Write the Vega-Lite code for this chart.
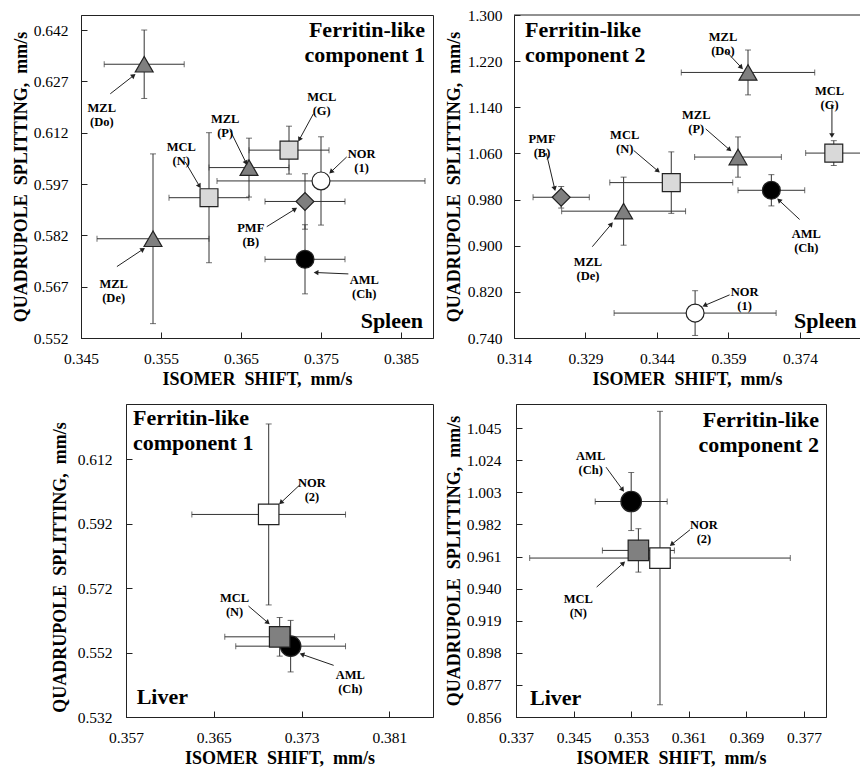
{
  "$schema": "https://vega.github.io/schema/vega-lite/v6.json",
  "background": "white",
  "padding": {"left": 11, "top": 8, "right": 0, "bottom": 0},
  "config": {
    "view": {"stroke": "#222", "strokeWidth": 1},
    "axis": {
      "grid": false,
      "domainColor": "#222",
      "tickColor": "#222",
      "tickSize": -6,
      "labelFont": "Liberation Serif",
      "labelFontSize": 15.5,
      "labelColor": "black",
      "labelFlush": false,
      "labelOverlap": false,
      "labelBound": false,
      "format": ".3f",
      "titleFont": "Liberation Serif",
      "titleFontSize": 18,
      "titleFontWeight": "bold",
      "titleColor": "black",
      "titleBaseline": "middle",
      "titleAlign": "center"
    },
    "axisQuantitative": {"labelOverlap": false},
    "axisX": {"labelPadding": 19, "titleY": 41},
    "axisY": {"labelPadding": 19, "titleAngle": 270, "labelOverlap": false},
    "text": {"font": "Liberation Serif", "fontWeight": "bold", "fontSize": 12.5, "lineBreak": "\n", "lineHeight": 14, "color": "black"}
  },
  "datasets": {
    "p1": [
      {"case": "MZL (Do)", "grp": "MZL", "x": 0.3529, "y": 0.6320, "dx": 0.0050, "dy": 0.0100},
      {"case": "MZL (De)", "grp": "MZL", "x": 0.3540, "y": 0.5810, "dx": 0.0070, "dy": 0.0248},
      {"case": "MCL (N)", "grp": "MCL", "x": 0.3610, "y": 0.5930, "dx": 0.0050, "dy": 0.0190},
      {"case": "MZL (P)", "grp": "MZL", "x": 0.3660, "y": 0.6018, "dx": 0.0050, "dy": 0.0086},
      {"case": "MCL (G)", "grp": "MCL", "x": 0.3710, "y": 0.6069, "dx": 0.0050, "dy": 0.0070},
      {"case": "AML (Ch)", "grp": "AML", "x": 0.3730, "y": 0.5750, "dx": 0.0050, "dy": 0.0101},
      {"case": "PMF (B)", "grp": "PMF", "x": 0.3730, "y": 0.5919, "dx": 0.0050, "dy": 0.0081},
      {"case": "NOR (1)", "grp": "NOR", "x": 0.3750, "y": 0.5979, "dx": 0.0130, "dy": 0.0129}
    ],
    "a1": [
      {"label": "MZL\n(Do)", "lx": 0.3476, "ly": 0.6193, "tx": 0.34866, "ty": 0.62336, "hx": 0.35158, "hy": 0.62870},
      {"label": "MZL\n(P)", "lx": 0.36302, "ly": 0.61608, "tx": 0.36364, "ty": 0.61268, "hx": 0.36564, "hy": 0.60317},
      {"label": "MCL\n(G)", "lx": 0.37509, "ly": 0.62239, "tx": 0.37405, "ty": 0.61753, "hx": 0.37230, "hy": 0.61000},
      {"label": "MCL\n(N)", "lx": 0.35753, "ly": 0.60782, "tx": 0.35803, "ty": 0.60346, "hx": 0.35981, "hy": 0.59637},
      {"label": "NOR\n(1)", "lx": 0.38008, "ly": 0.60569, "tx": 0.37821, "ty": 0.60491, "hx": 0.37625, "hy": 0.60055},
      {"label": "PMF\n(B)", "lx": 0.36622, "ly": 0.58404, "tx": 0.36822, "ty": 0.58453, "hx": 0.37176, "hy": 0.58967},
      {"label": "MZL\n(De)", "lx": 0.34908, "ly": 0.56782, "tx": 0.34949, "ty": 0.57287, "hx": 0.35274, "hy": 0.57792},
      {"label": "AML\n(Ch)", "lx": 0.38041, "ly": 0.56899, "tx": 0.37842, "ty": 0.57073, "hx": 0.37438, "hy": 0.57113}
    ],
    "p2": [
      {"case": "MZL (Do)", "grp": "MZL", "x": 0.3631, "y": 1.2004, "dx": 0.0140, "dy": 0.0389},
      {"case": "MZL (P)", "grp": "MZL", "x": 0.3610, "y": 1.0537, "dx": 0.0091, "dy": 0.0349},
      {"case": "MZL (De)", "grp": "MZL", "x": 0.3370, "y": 0.9599, "dx": 0.0130, "dy": 0.0590},
      {"case": "PMF (B)", "grp": "PMF", "x": 0.3239, "y": 0.9840, "dx": 0.0059, "dy": 0.0187},
      {"case": "AML (Ch)", "grp": "AML", "x": 0.3680, "y": 0.9961, "dx": 0.0070, "dy": 0.0271},
      {"case": "MCL (G)", "grp": "MCL", "x": 0.3811, "y": 1.0606, "dx": 0.0059, "dy": 0.0215},
      {"case": "MCL (N)", "grp": "MCL", "x": 0.3470, "y": 1.0094, "dx": 0.0129, "dy": 0.0533},
      {"case": "NOR (1)", "grp": "NOR", "x": 0.3520, "y": 0.7832, "dx": 0.0170, "dy": 0.0388}
    ],
    "a2": [
      {"label": "MZL\n(Do)", "lx": 0.35785, "ly": 1.26259, "tx": 0.35855, "ty": 1.23669, "hx": 0.36169, "hy": 1.20906},
      {"label": "MCL\n(G)", "lx": 0.38022, "ly": 1.16878, "tx": 0.38071, "ty": 1.14576, "hx": 0.38071, "hy": 1.09108},
      {"label": "MZL\n(P)", "lx": 0.35225, "ly": 1.12676, "tx": 0.35421, "ty": 1.10259, "hx": 0.35924, "hy": 1.06633},
      {"label": "MCL\n(N)", "lx": 0.33722, "ly": 1.09165, "tx": 0.33911, "ty": 1.06518, "hx": 0.34421, "hy": 1.02950},
      {"label": "PMF\n(B)", "lx": 0.31987, "ly": 1.08417, "tx": 0.32078, "ty": 1.06058, "hx": 0.32253, "hy": 0.99899},
      {"label": "MZL\n(De)", "lx": 0.32952, "ly": 0.87237, "tx": 0.33043, "ty": 0.89827, "hx": 0.33442, "hy": 0.93741},
      {"label": "AML\n(Ch)", "lx": 0.37533, "ly": 0.91957, "tx": 0.37393, "ty": 0.94546, "hx": 0.36960, "hy": 0.97885},
      {"label": "NOR\n(1)", "lx": 0.36239, "ly": 0.81942, "tx": 0.35924, "ty": 0.81482, "hx": 0.35400, "hy": 0.79640}
    ],
    "p3": [
      {"case": "NOR (2)", "grp": "NOR", "x": 0.3700, "y": 0.5949, "dx": 0.0070, "dy": 0.0281},
      {"case": "AML (Ch)", "grp": "AML", "x": 0.3720, "y": 0.5540, "dx": 0.0050, "dy": 0.0080},
      {"case": "MCL (N)", "grp": "MCL", "x": 0.3710, "y": 0.5569, "dx": 0.0050, "dy": 0.0060}
    ],
    "a3": [
      {"label": "NOR\n(2)", "lx": 0.37394, "ly": 0.60455, "tx": 0.37288, "ty": 0.60424, "hx": 0.37111, "hy": 0.59855},
      {"label": "MCL\n(N)", "lx": 0.36689, "ly": 0.56884, "tx": 0.36816, "ty": 0.56645, "hx": 0.36993, "hy": 0.56129},
      {"label": "AML\n(Ch)", "lx": 0.37744, "ly": 0.54504, "tx": 0.37592, "ty": 0.54804, "hx": 0.37303, "hy": 0.55146}
    ],
    "p4": [
      {"case": "AML (Ch)", "grp": "AML", "x": 0.3530, "y": 0.9970, "dx": 0.0050, "dy": 0.0190},
      {"case": "MCL (N)", "grp": "MCL", "x": 0.3540, "y": 0.9650, "dx": 0.0050, "dy": 0.0142},
      {"case": "NOR (2)", "grp": "NOR", "x": 0.3570, "y": 0.9600, "dx": 0.0181, "dy": 0.0960}
    ],
    "a4": [
      {"label": "AML\n(Ch)", "lx": 0.34737, "ly": 1.02647, "tx": 0.34950, "ty": 1.01949, "hx": 0.35181, "hy": 1.00467},
      {"label": "NOR\n(2)", "lx": 0.36311, "ly": 0.98134, "tx": 0.36117, "ty": 0.97851, "hx": 0.35862, "hy": 0.96891},
      {"label": "MCL\n(N)", "lx": 0.34566, "ly": 0.93295, "tx": 0.34820, "ty": 0.94101, "hx": 0.35191, "hy": 0.95671}
    ],
    "one": [{}]
  },
  "spacing": 14,
  "resolve": {"scale": {"shape": "independent", "fill": "independent"}},
  "vconcat": [
    {
      "spacing": 81,
      "bounds": "flush",
      "resolve": {"scale": {"shape": "independent", "fill": "independent"}},
      "hconcat": [
        {
          "width": 352, "height": 323,
          "layer": [
            {
              "data": {"name": "p1"},
              "mark": {"type": "errorbar", "ticks": {"size": 6}, "color": "#333", "thickness": 1},
              "encoding": {
                "x": {"field": "x", "type": "quantitative", "title": "ISOMER\u00a0 SHIFT,\u00a0 mm/s", "scale": {"domain": [0.345, 0.389], "nice": false, "zero": false},
                      "axis": {"values": [0.345, 0.355, 0.365, 0.375, 0.385], "titleX": 176, "labelOverlap": false}},
                "xError": {"field": "dx"},
                "y": {"field": "y", "type": "quantitative", "title": "QUADRUPOLE\u00a0 SPLITTING,\u00a0 mm/s", "scale": {"domain": [0.552, 0.64639], "nice": false, "zero": false},
                      "axis": {"values": [0.552, 0.567, 0.582, 0.597, 0.612, 0.627, 0.642], "titleX": -60, "titleY": 161.5, "labelOverlap": false}}
              }
            },
            {
              "data": {"name": "p1"},
              "mark": {"type": "errorbar", "ticks": {"size": 6}, "color": "#333", "thickness": 1},
              "encoding": {
                "x": {"field": "x", "type": "quantitative", "title": "ISOMER\u00a0 SHIFT,\u00a0 mm/s"},
                "y": {"field": "y", "type": "quantitative", "title": "QUADRUPOLE\u00a0 SPLITTING,\u00a0 mm/s"},
                "yError": {"field": "dy"}
              }
            },
            {
              "data": {"name": "p1"},
              "mark": {"type": "point", "filled": true, "size": 320, "stroke": "#222", "strokeWidth": 1.2, "opacity": 1},
              "encoding": {
                "x": {"field": "x", "type": "quantitative", "title": "ISOMER\u00a0 SHIFT,\u00a0 mm/s"},
                "y": {"field": "y", "type": "quantitative", "title": "QUADRUPOLE\u00a0 SPLITTING,\u00a0 mm/s"},
                "shape": {"field": "grp", "type": "nominal", "legend": null,
                          "scale": {"domain": ["MZL", "MCL", "NOR", "PMF", "AML"], "range": ["triangle-up", "square", "circle", "diamond", "circle"]}},
                "fill": {"field": "grp", "type": "nominal", "legend": null,
                         "scale": {"domain": ["MZL", "MCL", "NOR", "PMF", "AML"], "range": ["#7f7f7f", "#d9d9d9", "#ffffff", "#7f7f7f", "#000000"]}}
              }
            },
            {
              "data": {"name": "a1"},
              "mark": {"type": "rule", "color": "#222", "strokeWidth": 1},
              "encoding": {
                "x": {"field": "tx", "type": "quantitative", "title": "ISOMER\u00a0 SHIFT,\u00a0 mm/s"},
                "y": {"field": "ty", "type": "quantitative", "title": "QUADRUPOLE\u00a0 SPLITTING,\u00a0 mm/s"},
                "x2": {"field": "hx"}, "y2": {"field": "hy"}
              }
            },
            {
              "data": {"name": "a1"},
              "transform": [{"calculate": "atan2((datum.hx - datum.tx) * 8000, (datum.hy - datum.ty) * 3422) * 180 / PI", "as": "ang"}],
              "mark": {"type": "point", "shape": "triangle-up", "filled": true, "size": 30, "color": "#222", "opacity": 1},
              "encoding": {
                "x": {"field": "hx", "type": "quantitative", "title": "ISOMER\u00a0 SHIFT,\u00a0 mm/s"},
                "y": {"field": "hy", "type": "quantitative", "title": "QUADRUPOLE\u00a0 SPLITTING,\u00a0 mm/s"},
                "angle": {"field": "ang", "type": "quantitative", "scale": null}
              }
            },
            {
              "data": {"name": "a1"},
              "mark": {"type": "text", "align": "center", "baseline": "middle"},
              "encoding": {
                "x": {"field": "lx", "type": "quantitative", "title": "ISOMER\u00a0 SHIFT,\u00a0 mm/s"},
                "y": {"field": "ly", "type": "quantitative", "title": "QUADRUPOLE\u00a0 SPLITTING,\u00a0 mm/s"},
                "text": {"field": "label"}
              }
            },
            {
              "data": {"name": "one"},
              "mark": {"type": "text", "align": "right", "baseline": "alphabetic", "fontSize": 22, "lineHeight": 25},
              "encoding": {
                "x": {"datum": 0.388, "type": "quantitative", "title": "ISOMER\u00a0 SHIFT,\u00a0 mm/s"},
                "y": {"datum": 0.64005, "type": "quantitative", "title": "QUADRUPOLE\u00a0 SPLITTING,\u00a0 mm/s"},
                "text": {"value": ["Ferritin-like", "component 1"]}
              }
            },
            {
              "data": {"name": "one"},
              "mark": {"type": "text", "align": "right", "baseline": "alphabetic", "fontSize": 22},
              "encoding": {
                "x": {"datum": 0.38775, "type": "quantitative", "title": "ISOMER\u00a0 SHIFT,\u00a0 mm/s"},
                "y": {"datum": 0.55492, "type": "quantitative", "title": "QUADRUPOLE\u00a0 SPLITTING,\u00a0 mm/s"},
                "text": {"value": "Spleen"}
              }
            }
          ]
        },
        {
          "width": 346, "height": 323,
          "view": {"stroke": null},
          "layer": [
            {
              "data": {"name": "p2"},
              "mark": {"type": "errorbar", "ticks": {"size": 6}, "color": "#333", "thickness": 1, "clip": true},
              "encoding": {
                "x": {"field": "x", "type": "quantitative", "title": "ISOMER\u00a0 SHIFT,\u00a0 mm/s", "scale": {"domain": [0.314, 0.3866], "nice": false, "zero": false},
                      "axis": {"values": [0.314, 0.329, 0.344, 0.359, 0.374], "titleX": 173, "labelOverlap": false}},
                "xError": {"field": "dx"},
                "y": {"field": "y", "type": "quantitative", "title": "QUADRUPOLE\u00a0 SPLITTING,\u00a0 mm/s", "scale": {"domain": [0.74, 1.30], "nice": false, "zero": false},
                      "axis": {"values": [0.74, 0.82, 0.90, 0.98, 1.06, 1.14, 1.22, 1.30], "titleX": -60, "titleY": 161.5, "labelPadding": 18, "labelOverlap": false}}
              }
            },
            {
              "data": {"name": "p2"},
              "mark": {"type": "errorbar", "ticks": {"size": 6}, "color": "#333", "thickness": 1, "clip": true},
              "encoding": {
                "x": {"field": "x", "type": "quantitative", "title": "ISOMER\u00a0 SHIFT,\u00a0 mm/s"},
                "y": {"field": "y", "type": "quantitative", "title": "QUADRUPOLE\u00a0 SPLITTING,\u00a0 mm/s"},
                "yError": {"field": "dy"}
              }
            },
            {
              "data": {"name": "p2"},
              "mark": {"type": "point", "filled": true, "size": 320, "stroke": "#222", "strokeWidth": 1.2, "opacity": 1},
              "encoding": {
                "x": {"field": "x", "type": "quantitative", "title": "ISOMER\u00a0 SHIFT,\u00a0 mm/s"},
                "y": {"field": "y", "type": "quantitative", "title": "QUADRUPOLE\u00a0 SPLITTING,\u00a0 mm/s"},
                "shape": {"field": "grp", "type": "nominal", "legend": null,
                          "scale": {"domain": ["MZL", "MCL", "NOR", "PMF", "AML"], "range": ["triangle-up", "square", "circle", "diamond", "circle"]}},
                "fill": {"field": "grp", "type": "nominal", "legend": null,
                         "scale": {"domain": ["MZL", "MCL", "NOR", "PMF", "AML"], "range": ["#7f7f7f", "#d9d9d9", "#ffffff", "#7f7f7f", "#000000"]}}
              }
            },
            {
              "data": {"name": "a2"},
              "mark": {"type": "rule", "color": "#222", "strokeWidth": 1},
              "encoding": {
                "x": {"field": "tx", "type": "quantitative", "title": "ISOMER\u00a0 SHIFT,\u00a0 mm/s"},
                "y": {"field": "ty", "type": "quantitative", "title": "QUADRUPOLE\u00a0 SPLITTING,\u00a0 mm/s"},
                "x2": {"field": "hx"}, "y2": {"field": "hy"}
              }
            },
            {
              "data": {"name": "a2"},
              "transform": [{"calculate": "atan2((datum.hx - datum.tx) * 4766, (datum.hy - datum.ty) * 576.8) * 180 / PI", "as": "ang"}],
              "mark": {"type": "point", "shape": "triangle-up", "filled": true, "size": 30, "color": "#222", "opacity": 1},
              "encoding": {
                "x": {"field": "hx", "type": "quantitative", "title": "ISOMER\u00a0 SHIFT,\u00a0 mm/s"},
                "y": {"field": "hy", "type": "quantitative", "title": "QUADRUPOLE\u00a0 SPLITTING,\u00a0 mm/s"},
                "angle": {"field": "ang", "type": "quantitative", "scale": null}
              }
            },
            {
              "data": {"name": "a2"},
              "mark": {"type": "text", "align": "center", "baseline": "middle"},
              "encoding": {
                "x": {"field": "lx", "type": "quantitative", "title": "ISOMER\u00a0 SHIFT,\u00a0 mm/s"},
                "y": {"field": "ly", "type": "quantitative", "title": "QUADRUPOLE\u00a0 SPLITTING,\u00a0 mm/s"},
                "text": {"field": "label"}
              }
            },
            {
              "data": {"name": "one"},
              "mark": {"type": "rule", "color": "#222", "strokeWidth": 1},
              "encoding": {
                "x": {"datum": 0.314, "type": "quantitative", "title": "ISOMER\u00a0 SHIFT,\u00a0 mm/s"}, "x2": {"datum": 0.3866},
                "y": {"datum": 1.30, "type": "quantitative", "title": "QUADRUPOLE\u00a0 SPLITTING,\u00a0 mm/s"}
              }
            },
            {
              "data": {"name": "one"},
              "mark": {"type": "text", "align": "left", "baseline": "alphabetic", "fontSize": 22, "lineHeight": 25},
              "encoding": {
                "x": {"datum": 0.31631, "type": "quantitative", "title": "ISOMER\u00a0 SHIFT,\u00a0 mm/s"},
                "y": {"datum": 1.26237, "type": "quantitative", "title": "QUADRUPOLE\u00a0 SPLITTING,\u00a0 mm/s"},
                "text": {"value": ["Ferritin-like", "component 2"]}
              }
            },
            {
              "data": {"name": "one"},
              "mark": {"type": "text", "align": "right", "baseline": "alphabetic", "fontSize": 22},
              "encoding": {
                "x": {"datum": 0.38585, "type": "quantitative", "title": "ISOMER\u00a0 SHIFT,\u00a0 mm/s"},
                "y": {"datum": 0.75734, "type": "quantitative", "title": "QUADRUPOLE\u00a0 SPLITTING,\u00a0 mm/s"},
                "text": {"value": "Spleen"}
              }
            }
          ]
        }
      ]
    },
    {
      "spacing": 0,
      "bounds": "flush",
      "resolve": {"scale": {"shape": "independent", "fill": "independent"}},
      "hconcat": [
        {
          "width": 45, "height": 313,
          "view": {"stroke": null},
          "data": {"values": []},
          "mark": {"type": "point", "opacity": 0}
        },
        {
          "spacing": 83,
          "bounds": "flush",
          "resolve": {"scale": {"shape": "independent", "fill": "independent"}},
          "hconcat": [
            {
              "width": 307, "height": 313,
              "layer": [
                {
                  "data": {"name": "p3"},
                  "mark": {"type": "errorbar", "ticks": {"size": 6}, "color": "#333", "thickness": 1},
                  "encoding": {
                    "x": {"field": "x", "type": "quantitative", "title": "ISOMER\u00a0 SHIFT,\u00a0 mm/s", "scale": {"domain": [0.357, 0.38497], "nice": false, "zero": false},
                          "axis": {"values": [0.357, 0.365, 0.373, 0.381], "titleX": 153.5, "labelOverlap": false}},
                    "xError": {"field": "dx"},
                    "y": {"field": "y", "type": "quantitative", "title": "QUADRUPOLE\u00a0 SPLITTING,\u00a0 mm/s", "scale": {"domain": [0.532, 0.6292], "nice": false, "zero": false},
                          "axis": {"values": [0.532, 0.552, 0.572, 0.592, 0.612], "titleX": -66, "titleY": 163, "labelPadding": 20, "labelOverlap": false}}
                  }
                },
                {
                  "data": {"name": "p3"},
                  "mark": {"type": "errorbar", "ticks": {"size": 6}, "color": "#333", "thickness": 1},
                  "encoding": {
                    "x": {"field": "x", "type": "quantitative", "title": "ISOMER\u00a0 SHIFT,\u00a0 mm/s"},
                    "y": {"field": "y", "type": "quantitative", "title": "QUADRUPOLE\u00a0 SPLITTING,\u00a0 mm/s"},
                    "yError": {"field": "dy"}
                  }
                },
                {
                  "data": {"name": "p3"},
                  "mark": {"type": "point", "filled": true, "size": 420, "stroke": "#222", "strokeWidth": 1.2, "opacity": 1},
                  "encoding": {
                    "x": {"field": "x", "type": "quantitative", "title": "ISOMER\u00a0 SHIFT,\u00a0 mm/s"},
                    "y": {"field": "y", "type": "quantitative", "title": "QUADRUPOLE\u00a0 SPLITTING,\u00a0 mm/s"},
                    "shape": {"field": "grp", "type": "nominal", "legend": null,
                              "scale": {"domain": ["AML", "MCL", "NOR"], "range": ["circle", "square", "square"]}},
                    "fill": {"field": "grp", "type": "nominal", "legend": null,
                             "scale": {"domain": ["AML", "MCL", "NOR"], "range": ["#000000", "#808080", "#ffffff"]}}
                  }
                },
                {
                  "data": {"name": "a3"},
                  "mark": {"type": "rule", "color": "#222", "strokeWidth": 1},
                  "encoding": {
                    "x": {"field": "tx", "type": "quantitative", "title": "ISOMER\u00a0 SHIFT,\u00a0 mm/s"},
                    "y": {"field": "ty", "type": "quantitative", "title": "QUADRUPOLE\u00a0 SPLITTING,\u00a0 mm/s"},
                    "x2": {"field": "hx"}, "y2": {"field": "hy"}
                  }
                },
                {
                  "data": {"name": "a3"},
                  "transform": [{"calculate": "atan2((datum.hx - datum.tx) * 10976, (datum.hy - datum.ty) * 3223) * 180 / PI", "as": "ang"}],
                  "mark": {"type": "point", "shape": "triangle-up", "filled": true, "size": 30, "color": "#222", "opacity": 1},
                  "encoding": {
                    "x": {"field": "hx", "type": "quantitative", "title": "ISOMER\u00a0 SHIFT,\u00a0 mm/s"},
                    "y": {"field": "hy", "type": "quantitative", "title": "QUADRUPOLE\u00a0 SPLITTING,\u00a0 mm/s"},
                    "angle": {"field": "ang", "type": "quantitative", "scale": null}
                  }
                },
                {
                  "data": {"name": "a3"},
                  "mark": {"type": "text", "align": "center", "baseline": "middle"},
                  "encoding": {
                    "x": {"field": "lx", "type": "quantitative", "title": "ISOMER\u00a0 SHIFT,\u00a0 mm/s"},
                    "y": {"field": "ly", "type": "quantitative", "title": "QUADRUPOLE\u00a0 SPLITTING,\u00a0 mm/s"},
                    "text": {"field": "label"}
                  }
                },
                {
                  "data": {"name": "one"},
                  "mark": {"type": "text", "align": "left", "baseline": "alphabetic", "fontSize": 22, "lineHeight": 25},
                  "encoding": {
                    "x": {"datum": 0.35764, "type": "quantitative", "title": "ISOMER\u00a0 SHIFT,\u00a0 mm/s"},
                    "y": {"datum": 0.62259, "type": "quantitative", "title": "QUADRUPOLE\u00a0 SPLITTING,\u00a0 mm/s"},
                    "text": {"value": ["Ferritin-like", "component 1"]}
                  }
                },
                {
                  "data": {"name": "one"},
                  "mark": {"type": "text", "align": "left", "baseline": "alphabetic", "fontSize": 22},
                  "encoding": {
                    "x": {"datum": 0.35797, "type": "quantitative", "title": "ISOMER\u00a0 SHIFT,\u00a0 mm/s"},
                    "y": {"datum": 0.53594, "type": "quantitative", "title": "QUADRUPOLE\u00a0 SPLITTING,\u00a0 mm/s"},
                    "text": {"value": "Liver"}
                  }
                }
              ]
            },
            {
              "width": 310, "height": 313,
              "layer": [
                {
                  "data": {"name": "p4"},
                  "mark": {"type": "errorbar", "ticks": {"size": 6}, "color": "#333", "thickness": 1},
                  "encoding": {
                    "x": {"field": "x", "type": "quantitative", "title": "ISOMER\u00a0 SHIFT,\u00a0 mm/s", "scale": {"domain": [0.337, 0.38006], "nice": false, "zero": false},
                          "axis": {"values": [0.337, 0.345, 0.353, 0.361, 0.369, 0.377], "titleX": 155, "labelOverlap": false}},
                    "xError": {"field": "dx"},
                    "y": {"field": "y", "type": "quantitative", "title": "QUADRUPOLE\u00a0 SPLITTING,\u00a0 mm/s", "scale": {"domain": [0.856, 1.0608], "nice": false, "zero": false},
                          "axis": {"values": [0.856, 0.877, 0.898, 0.919, 0.940, 0.961, 0.982, 1.003, 1.024, 1.045], "titleX": -62, "titleY": 156.5, "labelPadding": 21, "labelOverlap": false, "labelSeparation": 0, "tickCount": 10}}
                  }
                },
                {
                  "data": {"name": "p4"},
                  "mark": {"type": "errorbar", "ticks": {"size": 6}, "color": "#333", "thickness": 1},
                  "encoding": {
                    "x": {"field": "x", "type": "quantitative", "title": "ISOMER\u00a0 SHIFT,\u00a0 mm/s"},
                    "y": {"field": "y", "type": "quantitative", "title": "QUADRUPOLE\u00a0 SPLITTING,\u00a0 mm/s", "axis": {"labelOverlap": false}},
                    "yError": {"field": "dy"}
                  }
                },
                {
                  "data": {"name": "p4"},
                  "mark": {"type": "point", "filled": true, "size": 420, "stroke": "#222", "strokeWidth": 1.2, "opacity": 1},
                  "encoding": {
                    "x": {"field": "x", "type": "quantitative", "title": "ISOMER\u00a0 SHIFT,\u00a0 mm/s"},
                    "y": {"field": "y", "type": "quantitative", "title": "QUADRUPOLE\u00a0 SPLITTING,\u00a0 mm/s", "axis": {"labelOverlap": false}},
                    "shape": {"field": "grp", "type": "nominal", "legend": null,
                              "scale": {"domain": ["AML", "MCL", "NOR"], "range": ["circle", "square", "square"]}},
                    "fill": {"field": "grp", "type": "nominal", "legend": null,
                             "scale": {"domain": ["AML", "MCL", "NOR"], "range": ["#000000", "#808080", "#ffffff"]}}
                  }
                },
                {
                  "data": {"name": "a4"},
                  "mark": {"type": "rule", "color": "#222", "strokeWidth": 1},
                  "encoding": {
                    "x": {"field": "tx", "type": "quantitative", "title": "ISOMER\u00a0 SHIFT,\u00a0 mm/s"},
                    "y": {"field": "ty", "type": "quantitative", "title": "QUADRUPOLE\u00a0 SPLITTING,\u00a0 mm/s", "axis": {"labelOverlap": false}},
                    "x2": {"field": "hx"}, "y2": {"field": "hy"}
                  }
                },
                {
                  "data": {"name": "a4"},
                  "transform": [{"calculate": "atan2((datum.hx - datum.tx) * 7199, (datum.hy - datum.ty) * 1528) * 180 / PI", "as": "ang"}],
                  "mark": {"type": "point", "shape": "triangle-up", "filled": true, "size": 30, "color": "#222", "opacity": 1},
                  "encoding": {
                    "x": {"field": "hx", "type": "quantitative", "title": "ISOMER\u00a0 SHIFT,\u00a0 mm/s"},
                    "y": {"field": "hy", "type": "quantitative", "title": "QUADRUPOLE\u00a0 SPLITTING,\u00a0 mm/s", "axis": {"labelOverlap": false}},
                    "angle": {"field": "ang", "type": "quantitative", "scale": null}
                  }
                },
                {
                  "data": {"name": "a4"},
                  "mark": {"type": "text", "align": "center", "baseline": "middle"},
                  "encoding": {
                    "x": {"field": "lx", "type": "quantitative", "title": "ISOMER\u00a0 SHIFT,\u00a0 mm/s"},
                    "y": {"field": "ly", "type": "quantitative", "title": "QUADRUPOLE\u00a0 SPLITTING,\u00a0 mm/s", "axis": {"labelOverlap": false}},
                    "text": {"field": "label"}
                  }
                },
                {
                  "data": {"name": "one"},
                  "mark": {"type": "text", "align": "right", "baseline": "alphabetic", "fontSize": 22, "lineHeight": 25},
                  "encoding": {
                    "x": {"datum": 0.37908, "type": "quantitative", "title": "ISOMER\u00a0 SHIFT,\u00a0 mm/s"},
                    "y": {"datum": 1.04572, "type": "quantitative", "title": "QUADRUPOLE\u00a0 SPLITTING,\u00a0 mm/s", "axis": {"labelOverlap": false}},
                    "text": {"value": ["Ferritin-like", "component 2"]}
                  }
                },
                {
                  "data": {"name": "one"},
                  "mark": {"type": "text", "align": "left", "baseline": "alphabetic", "fontSize": 22},
                  "encoding": {
                    "x": {"datum": 0.33894, "type": "quantitative", "title": "ISOMER\u00a0 SHIFT,\u00a0 mm/s"},
                    "y": {"datum": 0.86365, "type": "quantitative", "title": "QUADRUPOLE\u00a0 SPLITTING,\u00a0 mm/s", "axis": {"labelOverlap": false}},
                    "text": {"value": "Liver"}
                  }
                }
              ]
            }
          ]
        }
      ]
    }
  ]
}
